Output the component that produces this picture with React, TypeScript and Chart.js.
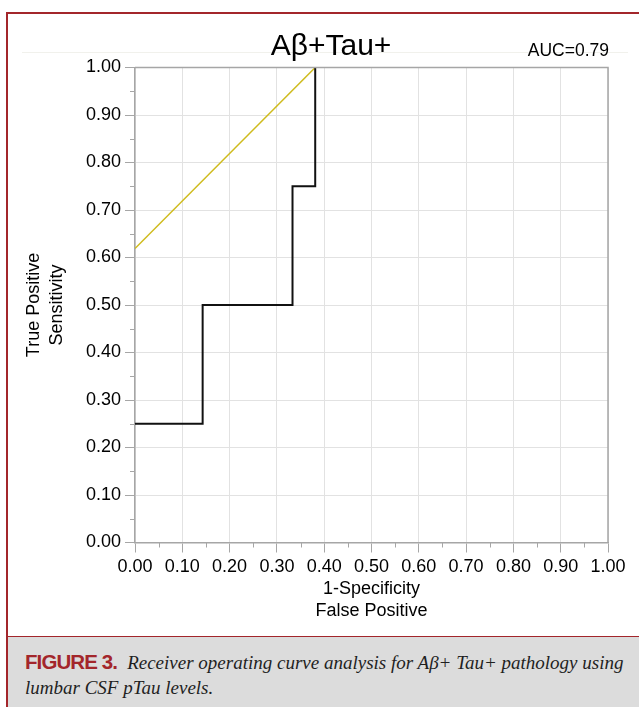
import React, { useEffect, useRef } from "react";
import { Chart, registerables } from "chart.js";

Chart.register(...registerables);

// ---- data ----
const rocFpr = [0, 0.143, 0.333, 0.381];
const rocTpr = [0.25, 0.5, 0.75, 1.0];
const tangentFpr = [0, 0.381];
const tangentTpr = [0.619, 1.0];
const minorTickValues = [0.05, 0.15, 0.25, 0.35, 0.45, 0.55, 0.65, 0.75, 0.85, 0.95];
const chartTitle = "Aβ+Tau+";
const aucLabel = "AUC=0.79";
const xAxisTitle = ["1-Specificity", "False Positive"];
const yAxisTitle = ["True Positive", "Sensitivity"];
const captionLabel = "FIGURE 3.";
const captionText = "Receiver operating curve analysis for Aβ+ Tau+ pathology using lumbar CSF pTau levels.";

const RED = "#a3262b";
const FONT = '"Liberation Sans", Arial, Helvetica, sans-serif';
const AXIS_GRAY = "#a6a6a6";

const overlayPlugin = {
  id: "overlay",
  beforeDraw(chart: any) {
    const ctx = chart.ctx;
    ctx.save();
    ctx.strokeStyle = "#f1f1ec";
    ctx.lineWidth = 1;
    ctx.beginPath();
    ctx.moveTo(22, 52.5);
    ctx.lineTo(628, 52.5);
    ctx.stroke();
    ctx.restore();
  },
  afterDraw(chart: any) {
    const { ctx, chartArea, scales } = chart;
    const { left, right, top, bottom } = chartArea;
    ctx.save();
    ctx.strokeStyle = AXIS_GRAY;
    ctx.lineWidth = 1.5;
    ctx.beginPath();
    ctx.moveTo(left, top);
    ctx.lineTo(right, top);
    ctx.lineTo(right, bottom);
    ctx.stroke();
    ctx.lineWidth = 1;
    ctx.beginPath();
    for (const v of minorTickValues) {
      const px = Math.round(scales.x.getPixelForValue(v)) + 0.5;
      ctx.moveTo(px, bottom);
      ctx.lineTo(px, bottom + 5);
      const py = Math.round(scales.y.getPixelForValue(v)) + 0.5;
      ctx.moveTo(left, py);
      ctx.lineTo(left - 5, py);
    }
    ctx.stroke();
    ctx.fillStyle = "#000";
    ctx.textBaseline = "alphabetic";
    ctx.textAlign = "center";
    ctx.font = `30px ${FONT}`;
    ctx.fillText(chartTitle, 331, 55);
    ctx.textAlign = "right";
    ctx.font = `17.5px ${FONT}`;
    ctx.fillText(aucLabel, 609, 56);
    ctx.restore();
  },
};

function fixWidth(w: number) {
  return (scale: any) => {
    scale.width = w;
  };
}
function fixHeight(h: number) {
  return (scale: any) => {
    scale.height = h;
  };
}

export default function App() {
  const ref = useRef<HTMLCanvasElement | null>(null);

  useEffect(() => {
    if (!ref.current) return;
    const tickFont = { family: FONT, size: 18 };
    const chart = new Chart(ref.current, {
      type: "scatter",
      data: {
        datasets: [
          {
            label: "ROC",
            data: rocFpr.map((x, i) => ({ x, y: rocTpr[i] })),
            showLine: true,
            stepped: "before",
            borderColor: "#111111",
            borderWidth: 2,
            pointRadius: 0,
            fill: false,
            order: 1,
          },
          {
            label: "Tangent",
            data: tangentFpr.map((x, i) => ({ x, y: tangentTpr[i] })),
            showLine: true,
            borderColor: "#cfbb1d",
            borderWidth: 1.5,
            pointRadius: 0,
            fill: false,
            order: 2,
          },
        ],
      },
      options: {
        animation: false,
        responsive: false,
        maintainAspectRatio: false,
        layout: { padding: { left: 0, right: 31, top: 67.5, bottom: 0 } },
        plugins: {
          legend: { display: false },
          tooltip: { enabled: false },
          title: { display: false },
        },
        scales: {
          x: {
            type: "linear",
            min: 0,
            max: 1,
            afterFit: fixHeight(93.5),
            ticks: {
              stepSize: 0.1,
              font: tickFont,
              color: "#000",
              padding: 4,
              maxRotation: 0,
              autoSkip: false,
              callback: (v: any) => Number(v).toFixed(2),
            },
            grid: { color: "#e2e2e2", lineWidth: 1, tickLength: 10, tickColor: AXIS_GRAY },
            border: { color: AXIS_GRAY, width: 1.5 },
            title: {
              display: true,
              text: xAxisTitle,
              font: { family: FONT, size: 18, lineHeight: 1.222 },
              color: "#000",
              padding: { top: 0, bottom: 14 },
            },
          },
          y: {
            type: "linear",
            min: 0,
            max: 1,
            afterFit: fixWidth(135),
            ticks: {
              stepSize: 0.1,
              font: tickFont,
              color: "#000",
              padding: 4,
              autoSkip: false,
              callback: (v: any) => Number(v).toFixed(2),
            },
            grid: { color: "#e2e2e2", lineWidth: 1, tickLength: 10, tickColor: AXIS_GRAY },
            border: { color: AXIS_GRAY, width: 1.5 },
            title: {
              display: true,
              text: yAxisTitle,
              font: { family: FONT, size: 18, lineHeight: 1.278 },
              color: "#000",
              padding: { top: 23, bottom: 0 },
            },
          },
        },
      },
      plugins: [overlayPlugin],
    } as any);
    return () => chart.destroy();
  }, []);

  return (
    <div style={{ position: "absolute", left: 0, top: 0, width: 639, height: 707, overflow: "hidden", background: "#fff" }}>
      <div
        style={{
          position: "absolute",
          left: 6,
          top: 12,
          width: 640,
          height: 700,
          borderTop: `2px solid ${RED}`,
          borderLeft: `2px solid ${RED}`,
          boxSizing: "border-box",
          background: "#fff",
        }}
      />
      <canvas
        ref={ref}
        width={639}
        height={636}
        style={{ position: "absolute", left: 0, top: 0, width: 639, height: 636 }}
      />
      <div
        style={{
          position: "absolute",
          left: 6,
          top: 636,
          width: 640,
          height: 71,
          background: "#dcdcdc",
          borderTop: `1.5px solid ${RED}`,
          borderLeft: `2px solid ${RED}`,
          boxSizing: "border-box",
          padding: "12px 10px 0 17px",
          fontFamily: '"Liberation Serif", "Times New Roman", serif',
          fontSize: 19,
          lineHeight: "25px",
          color: "#1f1f1f",
        }}
      >
        <span
          style={{
            fontFamily: '"Liberation Sans Narrow", "Liberation Sans", Arial, sans-serif',
            fontWeight: "bold",
            fontStyle: "normal",
            color: RED,
            fontSize: 20.5,
            letterSpacing: -0.9,
          }}
        >
          {captionLabel}
        </span>
        <span style={{ fontStyle: "italic", marginLeft: 10 }}>{captionText}</span>
      </div>
    </div>
  );
}
